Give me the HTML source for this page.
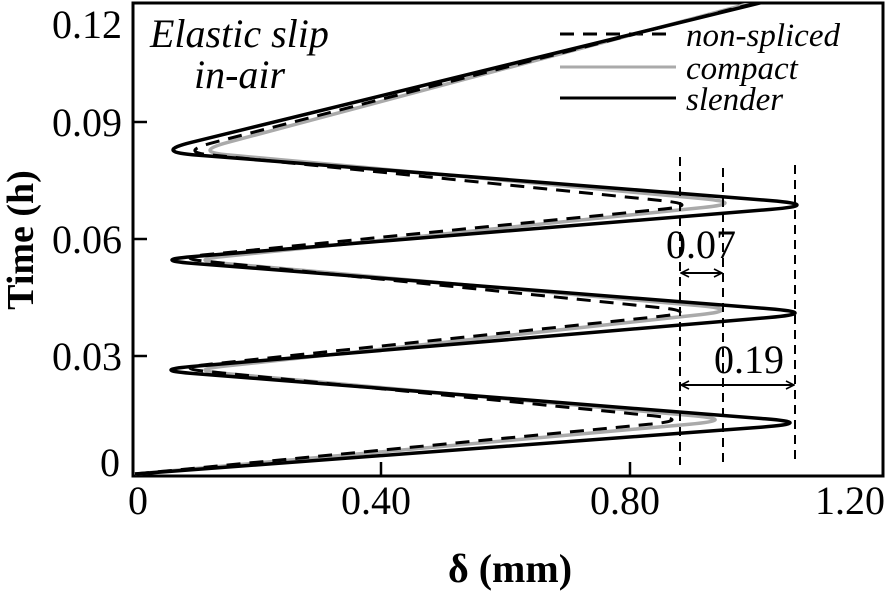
<!DOCTYPE html>
<html><head><meta charset="utf-8"><style>
html,body{margin:0;padding:0;background:#fff;}
svg{display:block;}
text{font-family:"Liberation Serif",serif;fill:#000;}
</style></head><body>
<svg id="s" width="890" height="591" viewBox="0 0 890 591" xmlns="http://www.w3.org/2000/svg">
<defs>
<clipPath id="c"><rect x="133" y="3" width="750" height="473"/></clipPath>
<marker id="ah" viewBox="0 0 10 10" refX="9" refY="5" markerWidth="10" markerHeight="10" orient="auto-start-reverse" markerUnits="userSpaceOnUse"><path d="M1,1 L9,5 L1,9" fill="none" stroke="#000" stroke-width="1.6"/></marker>
</defs>
<rect x="133" y="3" width="750" height="473" fill="none" stroke="#000" stroke-width="3"/>
<g stroke="#000" stroke-width="2.5">
<line x1="133" y1="122" x2="147" y2="122"/><line x1="133" y1="239" x2="147" y2="239"/><line x1="133" y1="356" x2="147" y2="356"/>
<line x1="381" y1="476" x2="381" y2="462"/><line x1="630" y1="476" x2="630" y2="462"/>
</g>
<g font-size="40" text-anchor="end">
<text x="122" y="38">0.12</text><text x="122" y="136">0.09</text><text x="122" y="253">0.06</text><text x="122" y="370">0.03</text><text x="120" y="476">0</text>
</g>
<g font-size="40" text-anchor="middle">
<text x="138" y="514">0</text><text x="376" y="514">0.40</text><text x="625" y="514">0.80</text><text x="850" y="514">1.20</text>
</g>
<text x="510" y="582" font-size="40" font-weight="bold" text-anchor="middle">δ (mm)</text>
<text transform="translate(33,240) rotate(-90)" font-size="38" font-weight="bold" text-anchor="middle">Time (h)</text>
<text x="150" y="47" font-size="40" font-style="italic">Elastic slip</text>
<text x="194" y="88" font-size="40" font-style="italic">in-air</text>
<line x1="560" y1="34" x2="670" y2="34" stroke="#000" stroke-width="3" stroke-dasharray="14,9"/>
<line x1="560" y1="67" x2="676" y2="67" stroke="#aaa" stroke-width="3"/>
<line x1="560" y1="98" x2="676" y2="98" stroke="#000" stroke-width="3"/>
<g font-size="33" font-style="italic">
<text x="686" y="46">non-spliced</text><text x="686" y="79">compact</text><text x="686" y="110">slender</text>
</g>
<g clip-path="url(#c)" fill="none" id="curves"></g>
<g stroke="#000" stroke-width="2" stroke-dasharray="9,6">
<line x1="680" y1="157" x2="680" y2="465"/><line x1="723" y1="168" x2="723" y2="465"/><line x1="795" y1="165" x2="795" y2="460"/>
</g>
<line x1="681" y1="273" x2="722" y2="273" stroke="#000" stroke-width="2" marker-start="url(#ah)" marker-end="url(#ah)"/>
<line x1="681" y1="385" x2="794" y2="385" stroke="#000" stroke-width="2" marker-start="url(#ah)" marker-end="url(#ah)"/>
<text x="701" y="258" font-size="40" text-anchor="middle">0.07</text>
<text x="749" y="373" font-size="40" text-anchor="middle">0.19</text>
</svg>
<script>
function lerp(a,b,t){return [a[0]+(b[0]-a[0])*t,a[1]+(b[1]-a[1])*t];}
function path(p){
  var d="M"+p[0][0]+","+p[0][1];
  for(var i=1;i<p.length-1;i++){
    var P=p[i-1],N=p[i+1],T0=p[i];
    var f=(T0[0]<400)?0.06:0.08;
    var T=[(T0[0]-0.25*f*(P[0]+N[0]))/(1-0.5*f),(T0[1]-0.25*f*(P[1]+N[1]))/(1-0.5*f)];
    var S=lerp(T,P,f),E=lerp(T,N,f);
    d+=" L"+S[0].toFixed(1)+","+S[1].toFixed(1)+" Q"+T[0].toFixed(1)+","+T[1].toFixed(1)+" "+E[0].toFixed(1)+","+E[1].toFixed(1);
  }
  var L=p[p.length-1];d+=" L"+L[0]+","+L[1];
  return d;
}
var g=document.getElementById("curves"),ns="http://www.w3.org/2000/svg";
function add(p,stroke,w,dash){
  var e=document.createElementNS(ns,"path");
  e.setAttribute("d",path(p));e.setAttribute("stroke",stroke);e.setAttribute("stroke-width",w);
  e.setAttribute("stroke-linejoin","round");
  if(dash)e.setAttribute("stroke-dasharray",dash);
  e.setAttribute("fill","none");g.appendChild(e);
}
add([[135,474],[715,420],[205,370],[722,310],[205,260],[725,203],[210,150],[770,-2]],"#aaa",3.5);
add([[135,474],[672,420],[190,368],[680,312],[190,258],[682,205],[195,150],[775,-2]],"#000",3,"14,9");
add([[135,474],[790,423],[171,370],[795,313],[172,260],[797,205],[173,150],[780,-2]],"#000",3.5);
</script>
</body></html>
